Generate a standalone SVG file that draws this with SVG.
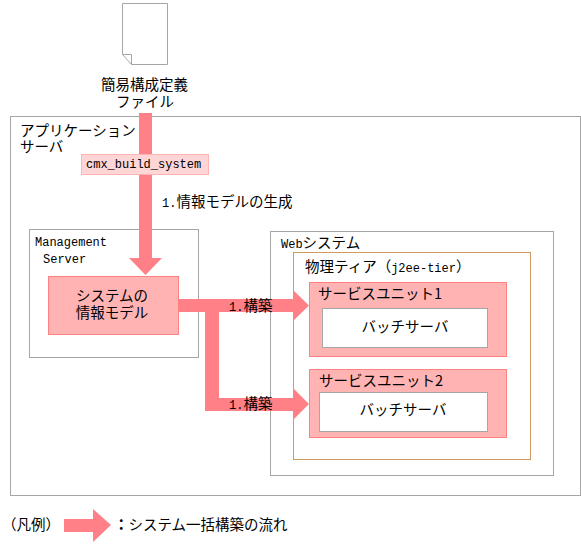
<svg xmlns="http://www.w3.org/2000/svg" width="581" height="545" viewBox="0 0 581 545">
<style>
text{font-family:"Noto Sans CJK JP","DejaVu Sans",sans-serif;font-size:14.500px;fill:#000}
.m{font-family:"Liberation Mono","Noto Sans CJK JP",monospace;font-size:12px}
.c{text-anchor:middle}
.b{fill:#fff;stroke:#a6a6a6;stroke-width:1}
.u{fill:#ffb3b3;stroke:#ff8080;stroke-width:1}
.f{fill:#ff8086}
</style>
<g id="file">
<path class="b" d="M122.500 3.500H167.500V64.500H131.500L122.500 54.500Z"/>
<path fill="none" stroke="#a6a6a6" d="M122.500 54.500H131.500V64.500"/>
<text class="c"><tspan x="144.500" y="90">簡易構成定義</tspan><tspan x="145" y="107">ファイル</tspan></text>
</g>
<g id="app-server">
<rect class="b" x="10.500" y="116.500" width="570" height="379"/>
<text><tspan x="20" y="136">アプリケーション</tspan><tspan x="20" y="152">サーバ</tspan></text>
</g>
<g id="management-server">
<rect class="b" x="29.500" y="229.500" width="169" height="128"/>
<text class="m"><tspan x="35" y="246">Management</tspan><tspan x="43" y="263">Server</tspan></text>
</g>
<g id="web-system">
<rect class="b" x="270.500" y="231.500" width="283" height="244"/>
<text x="281" y="248"><tspan class="m">Web</tspan>システム</text>
</g>
<g id="tier">
<rect fill="#fff" stroke="#d19a5e" x="293.500" y="252.500" width="237" height="207"/>
<text x="305" y="272">物理ティア（<tspan class="m">j2ee-tier</tspan>）</text>
</g>
<g id="unit1">
<rect class="u" x="309.500" y="282.500" width="197" height="74"/>
<text x="318" y="299">サービスユニット1</text>
</g>
<g id="batch1">
<rect class="b" x="322.500" y="308.500" width="165" height="39"/>
<text class="c" x="405" y="332">バッチサーバ</text>
</g>
<g id="unit2">
<rect class="u" x="309.500" y="369.500" width="197" height="68"/>
<text x="319" y="386">サービスユニット2</text>
</g>
<g id="batch2">
<rect class="b" x="319.500" y="392.500" width="168" height="39"/>
<text class="c" x="403" y="415">バッチサーバ</text>
</g>
<g id="connectors">
<path class="f" d="M139 113H152V258H162L145.500 275L129 258H139Z"/>
<path class="f" d="M179 299H293V290L309 305.500L293 321V312H219V398H293V388L309 404L293 420V411H205V312H179Z"/>
<path class="f" d="M64 519H93V509L111 525L93 542V532H64Z"/>
</g>
<g id="model">
<rect x="48.500" y="276.500" width="130" height="58" fill="#ffb3b3" stroke="#ff8080"/>
<text class="c"><tspan x="112" y="301">システムの</tspan><tspan x="112" y="318">情報モデル</tspan></text>
</g>
<g id="command">
<rect x="81.500" y="154.500" width="127" height="20" fill="#ffd5d5" stroke="#ffb3b3"/>
<text class="m" x="86" y="168">cmx_build_system</text>
</g>
<g id="labels">
<text x="162" y="207"><tspan class="m">1.</tspan>情報モデルの生成</text>
<text x="229" y="311"><tspan class="m">1.</tspan>構築</text>
<text x="229" y="409"><tspan class="m">1.</tspan>構築</text>
</g>
<g id="legend">
<text x="2" y="530">（凡例）</text>
<text x="114" y="530"><tspan font-weight="bold">：</tspan>システム一括構築の流れ</text>
</g>
</svg>
